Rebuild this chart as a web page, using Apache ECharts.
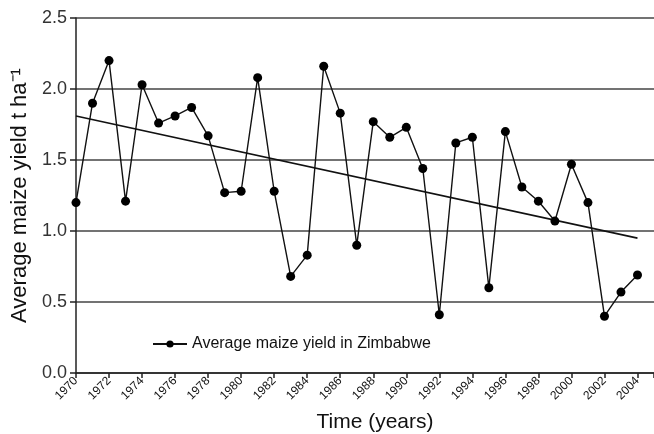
<!DOCTYPE html>
<html><head><meta charset="utf-8">
<script src="https://cdn.jsdelivr.net/npm/echarts@6/dist/echarts.min.js"></script>
<style>html,body{margin:0;padding:0;background:#fff}#c{width:654px;height:434px}</style>
</head><body><div id="c"></div>
<script>
const years = [1970,1971,1972,1973,1974,1975,1976,1977,1978,1979,1980,1981,1982,1983,1984,1985,1986,1987,1988,1989,1990,1991,1992,1993,1994,1995,1996,1997,1998,1999,2000,2001,2002,2003,2004];
const yieldVals = [1.20,1.90,2.20,1.21,2.03,1.76,1.81,1.87,1.67,1.27,1.28,2.08,1.28,0.68,0.83,2.16,1.83,0.90,1.77,1.66,1.73,1.44,0.41,1.62,1.66,0.60,1.70,1.31,1.21,1.07,1.47,1.20,0.40,0.57,0.69];
const trendYears = [1970, 2004];
const trendVals = [1.81, 0.95];
const seriesName = 'Average maize yield in Zimbabwe';

const chart = echarts.init(document.getElementById('c'));
const font = 'Liberation Sans, Arial, sans-serif';
chart.setOption({
  animation: false,
  grid: {left: 76, right: 0, top: 18, bottom: 61, containLabel: false, outerBoundsMode: 'none'},
  legend: {
    data: [seriesName], left: 147, top: 331, itemWidth: 34, itemHeight: 9, itemGap: 6,
    textStyle: {fontFamily: font, fontSize: 16, color: '#111'}
  },
  xAxis: {
    type: 'value', min: 1970, max: 2005, interval: 2,
    name: 'Time (years)', nameLocation: 'middle', nameGap: 39,
    nameTextStyle: {fontFamily: font, fontSize: 21, color: '#111', padding: [0, 0, 0, 20]},
    axisLine: {show: true, lineStyle: {color: '#222', width: 1.5}},
    axisTick: {show: true, length: 5, lineStyle: {color: '#222', width: 1.5}},
    axisLabel: {rotate: 45, fontFamily: font, fontSize: 12, color: '#111', margin: 6,
      formatter: v => v <= 2004 ? String(v) : ''},
    splitLine: {show: false}
  },
  yAxis: {
    type: 'value', min: 0, max: 2.5, interval: 0.5,
    name: 'Average maize yield t ha\u207B\u00B9', nameLocation: 'middle', nameGap: 37,
    nameTextStyle: {fontFamily: font, fontSize: 22, color: '#111'},
    axisLine: {show: true, lineStyle: {color: '#222', width: 1.5}},
    axisTick: {show: true, length: 6, lineStyle: {color: '#222', width: 1.5}},
    axisLabel: {fontFamily: font, fontSize: 18, color: '#333', margin: 9,
      formatter: v => v.toFixed(1)},
    splitLine: {show: true, lineStyle: {color: '#444', width: 1.5}}
  },
  series: [
    {
      name: seriesName, type: 'line',
      data: years.map((y, i) => [y, yieldVals[i]]),
      symbol: 'circle', symbolSize: 9, showSymbol: true,
      lineStyle: {color: '#111', width: 1.4},
      itemStyle: {color: '#000'},
      z: 3
    },
    {
      name: 'trend', type: 'line',
      data: trendYears.map((y, i) => [y, trendVals[i]]),
      symbol: 'none', lineStyle: {color: '#111', width: 1.6}, z: 2
    }
  ]
});
</script></body></html>
